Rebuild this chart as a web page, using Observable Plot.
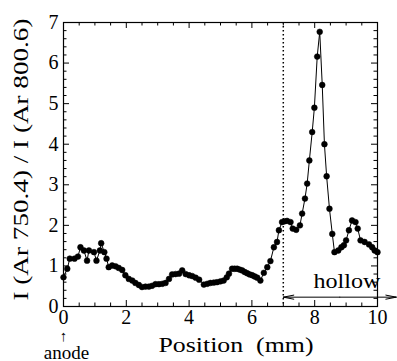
<!DOCTYPE html>
<html><head><meta charset="utf-8">
<script src="https://cdn.jsdelivr.net/npm/d3@7"></script>
<script src="https://cdn.jsdelivr.net/npm/@observablehq/plot@0.6"></script>
<style>body{margin:0;background:#fff} svg{display:block} svg text{font-family:"Liberation Serif","Times New Roman",serif}</style>
</head><body><div id="chart"></div>
<script>
// Data
const positions = [0,0.12,0.2,0.35,0.46,0.54,0.65,0.75,0.81,0.97,1.05,1.16,1.2,1.3,1.37,1.44,1.55,1.66,1.76,1.87,1.97,2.08,2.19,2.29,2.4,2.5,2.61,2.72,2.82,2.93,3.04,3.15,3.25,3.36,3.46,3.57,3.68,3.78,3.89,4.0,4.1,4.21,4.32,4.47,4.58,4.68,4.79,4.89,5.0,5.1,5.2,5.27,5.37,5.45,5.53,5.61,5.69,5.77,5.85,5.93,6.01,6.09,6.17,6.27,6.38,6.49,6.59,6.7,6.8,6.86,6.96,7.04,7.12,7.23,7.3,7.41,7.53,7.6,7.69,7.76,7.83,7.92,7.99,8.08,8.16,8.24,8.31,8.38,8.47,8.56,8.63,8.75,8.85,8.93,9.0,9.09,9.19,9.3,9.37,9.46,9.59,9.73,9.83,9.91,10.0];
const ratios = [0.72,0.93,1.18,1.18,1.23,1.46,1.38,1.13,1.38,1.34,1.13,1.38,1.56,1.34,1.18,0.97,1.01,0.99,0.95,0.9,0.77,0.68,0.64,0.58,0.53,0.48,0.49,0.49,0.51,0.55,0.55,0.56,0.58,0.68,0.79,0.8,0.81,0.89,0.8,0.77,0.75,0.71,0.66,0.54,0.56,0.58,0.59,0.6,0.62,0.64,0.72,0.81,0.93,0.93,0.93,0.91,0.89,0.85,0.82,0.79,0.77,0.74,0.71,0.64,0.83,0.97,1.12,1.46,1.59,1.88,2.08,2.1,2.11,2.08,1.92,1.89,2.0,2.29,2.66,3.03,3.6,4.3,4.9,6.16,6.77,5.46,4.0,3.21,2.41,1.79,1.34,1.38,1.46,1.51,1.63,1.88,2.12,2.08,1.92,1.63,1.59,1.53,1.46,1.38,1.34];

const xMajorTicks = [0,2,4,6,8,10];
const xMinorTicks = [0.5,1,1.5,2.5,3,3.5,4.5,5,5.5,6.5,7,7.5,8.5,9,9.5];
const yMajorTicks = [0,1,2,3,4,5,6,7];
const yMinorTicks = [0.2,0.4,0.6,0.8,1.2,1.4,1.6,1.8,2.2,2.4,2.6,2.8,3.2,3.4,3.6,3.8,4.2,4.4,4.6,4.8,5.2,5.4,5.6,5.8,6.2,6.4,6.6,6.8];

const hollowBoundary = [7];
const hollowArrowX = [7, 10.6];
const hollowArrowY = [0.23];
const hollowLabel = ["hollow"];
const hollowLabelX = [7.96];
const hollowLabelY = [0.64];
const anodeMark = ["↑"];
const anodeLabel = ["anode"];
const anodeX = [0];
const xTitle = ["Position  (mm)"];
const yTitle = ["I (Ar 750.4) / I (Ar 800.6)"];

const points = positions.map((x, i) => ({x, y: ratios[i]}));
const W = 397, H = 361, mL = 63, mR = 20, mT = 22, mB = 55;
const pw = W - mL - mR, ph = H - mT - mB;
const font = "'Liberation Serif', 'Times New Roman', serif";
const mid = (hollowArrowX[0] + hollowArrowX[1]) / 2;

const chart = Plot.plot({
  width: W, height: H,
  marginLeft: mL, marginRight: mR, marginTop: mT, marginBottom: mB,
  x: {domain: [0, 10]},
  y: {domain: [0, 7]},
  style: {fontFamily: font, fontSize: "19px", color: "black", background: "white"},
  marks: [
    // inward ticks on all four sides
    Plot.ruleX(xMajorTicks, {insetTop: ph - 6, stroke: "black"}),
    Plot.ruleX(xMinorTicks, {insetTop: ph - 3.5, stroke: "black"}),
    Plot.ruleX(xMajorTicks, {insetBottom: ph - 6, stroke: "black"}),
    Plot.ruleX(xMinorTicks, {insetBottom: ph - 3.5, stroke: "black"}),
    Plot.ruleY(yMajorTicks, {insetRight: pw - 6, stroke: "black"}),
    Plot.ruleY(yMinorTicks, {insetRight: pw - 3.5, stroke: "black"}),
    Plot.ruleY(yMajorTicks, {insetLeft: pw - 6, stroke: "black"}),
    Plot.ruleY(yMinorTicks, {insetLeft: pw - 3.5, stroke: "black"}),
    Plot.frame({stroke: "black", strokeWidth: 1.2}),
    Plot.axisX(xMajorTicks, {anchor: "bottom", tickSize: 0, tickPadding: 3, fontSize: 20, fontFamily: font, label: null}),
    Plot.axisY(yMajorTicks, {anchor: "left", tickSize: 0, tickPadding: 5, fontSize: 20, fontFamily: font, label: null}),
    // hollow boundary
    Plot.ruleX(hollowBoundary, {stroke: "black", strokeWidth: 1.5, strokeDasharray: "1.5,2.5"}),
    // data
    Plot.line(points, {x: "x", y: "y", stroke: "black", strokeWidth: 1}),
    Plot.dot(points, {x: "x", y: "y", r: 2.9, fill: "black", stroke: "black", strokeWidth: 0.5}),
    // hollow annotation
    Plot.arrow(hollowArrowY, {x1: mid, x2: hollowArrowX[0], y1: d => d, y2: d => d, stroke: "black", strokeWidth: 1, headLength: 16, headAngle: 22}),
    Plot.arrow(hollowArrowY, {x1: mid, x2: hollowArrowX[1], y1: d => d, y2: d => d, stroke: "black", strokeWidth: 1, headLength: 16, headAngle: 22}),
    Plot.text(hollowLabel, {x: hollowLabelX[0], y: hollowLabelY[0], text: d => d, fontSize: 22, fontFamily: font, textAnchor: "start", lineAnchor: "middle"}),
    // anode annotation
    Plot.text(anodeMark, {x: anodeX[0], frameAnchor: "bottom", dy: 30, text: d => d, fontSize: 15, fontFamily: font, lineAnchor: "middle"}),
    Plot.text(anodeLabel, {x: anodeX[0], frameAnchor: "bottom", dy: 46, dx: 3, text: d => d, fontSize: 19, fontFamily: font, lineAnchor: "middle"}),
    // axis titles
    Plot.text(xTitle, {frameAnchor: "bottom-left", dx: 95, dy: 38, text: d => d, fontSize: 22, fontFamily: font, textAnchor: "start", lineAnchor: "middle"}),
    Plot.text(yTitle, {frameAnchor: "bottom-left", dx: -42, dy: -6, rotate: -90, text: d => d, fontSize: 21, fontFamily: font, textAnchor: "start", lineAnchor: "middle"})
  ]
});

const svgSel = d3.select(chart);
svgSel.style("font-family", font);
const stretch = {[yTitle[0]]: 282, [xTitle[0]]: 155, [hollowLabel[0]]: 67};
svgSel.selectAll("text").each(function() {
  const len = stretch[this.textContent];
  if (len) d3.select(this).attr("textLength", len).attr("lengthAdjust", "spacingAndGlyphs");
});
document.getElementById("chart").appendChild(chart);
</script>
</body></html>
